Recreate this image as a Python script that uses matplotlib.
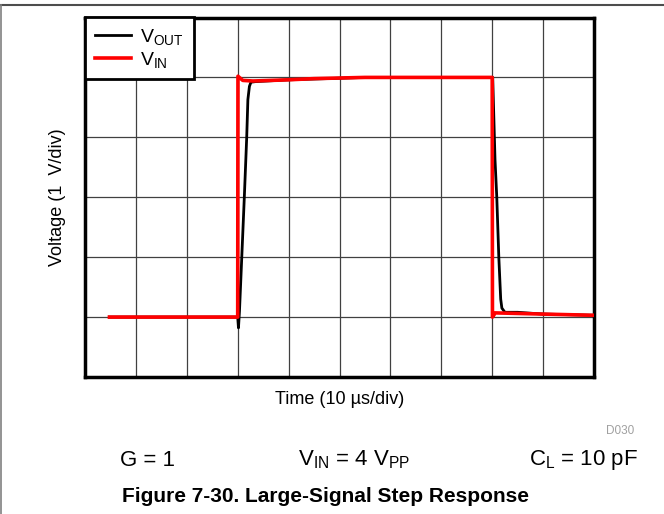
import matplotlib
matplotlib.use("Agg")
import matplotlib.pyplot as plt
from matplotlib.lines import Line2D

plt.rcParams['font.family'] = ['Liberation Sans', 'DejaVu Sans']
plt.rcParams['mathtext.fontset'] = 'custom'
plt.rcParams['mathtext.rm'] = 'Liberation Sans'
plt.rcParams['mathtext.it'] = 'Liberation Sans'
plt.rcParams['mathtext.bf'] = 'Liberation Sans:bold'

# Time in us, voltage in V
vin_t = [4.8, 30.0, 30.05, 31.0, 33.0, 40.0, 45.0, 55.0, 80.0, 80.05, 80.6, 90.0, 100.0]
vin_v = [0.0, 0.0, 4.02, 3.95, 3.94, 3.96, 3.98, 4.0, 4.0, 0.0, 0.07, 0.05, 0.03]

vout_t = [4.8, 30.0, 30.15, 30.35, 31.3, 31.77, 32.0, 32.3, 32.6, 33.5, 40.0, 55.0,
          80.1, 80.55, 80.9, 81.3, 81.67, 81.9, 82.5, 85.0, 90.0, 100.0]
vout_v = [0.0, 0.0, -0.18, 0.1, 2.0, 3.0, 3.63, 3.85, 3.92, 3.93, 3.96, 4.0,
          4.0, 2.63, 2.0, 1.0, 0.3, 0.15, 0.08, 0.08, 0.05, 0.03]

fig = plt.figure(figsize=(6.64, 5.14), dpi=100)
W, H = 664, 514
ax = fig.add_axes([85 / W, 1 - 377 / H, (594 - 85) / W, (377 - 17.5) / H])

ax.plot(vout_t, vout_v, color='black', lw=2.0, zorder=3, label=r'V$_\mathrm{OUT}$')
ax.plot(vin_t, vin_v, color='#ff0000', lw=2.6, zorder=4, label=r'V$_\mathrm{IN}$')

ax.set_xlim(0, 100)
ax.set_ylim(-1, 5)
ax.set_xticks(range(0, 101, 10))
ax.set_yticks(range(-1, 6, 1))
ax.grid(True, color='0.25', lw=0.9)
ax.tick_params(length=0, labelbottom=False, labelleft=False)
for s in ax.spines.values():
    s.set_linewidth(2.5)
    s.set_color('black')

ax.set_xlabel('Time (10 µs/div)', fontsize=13, labelpad=10)
ax.set_ylabel('Voltage (1  V/div)', fontsize=13, labelpad=14)

leg = ax.legend(loc='upper left', borderaxespad=0, fontsize=14, fancybox=False,
                framealpha=1, edgecolor='black', handlelength=1.85, handletextpad=0.5,
                labelspacing=0.12, borderpad=0.5)
leg.get_frame().set_linewidth(2.0)

fig.text(634 / W, 1 - 431 / H, 'D030', fontsize=8.5, color='#a0a0a0', ha='right', va='center')
fig.text(147 / W, 1 - 460 / H, 'G = 1', fontsize=16, ha='center', va='center')
fig.text(354 / W, 1 - 460 / H, r'V$_\mathrm{IN}$ = 4 V$_\mathrm{PP}$', fontsize=16, ha='center', va='center')
fig.text(583 / W, 1 - 460 / H, r'C$_\mathrm{L}$ = 10 pF', fontsize=16, ha='center', va='center')
fig.text(325 / W, 1 - 497 / H, 'Figure 7-30. Large-Signal Step Response', fontsize=15,
         fontweight='bold', ha='center', va='center')

fig.add_artist(Line2D([0, 1], [1 - 5 / H, 1 - 5 / H], transform=fig.transFigure,
                      color='0.3', lw=1.5))
fig.add_artist(Line2D([1 / W, 1 / W], [0, 1 - 5 / H], transform=fig.transFigure,
                      color='0.5', lw=1.2))

fig.savefig('out.png', dpi=100)
